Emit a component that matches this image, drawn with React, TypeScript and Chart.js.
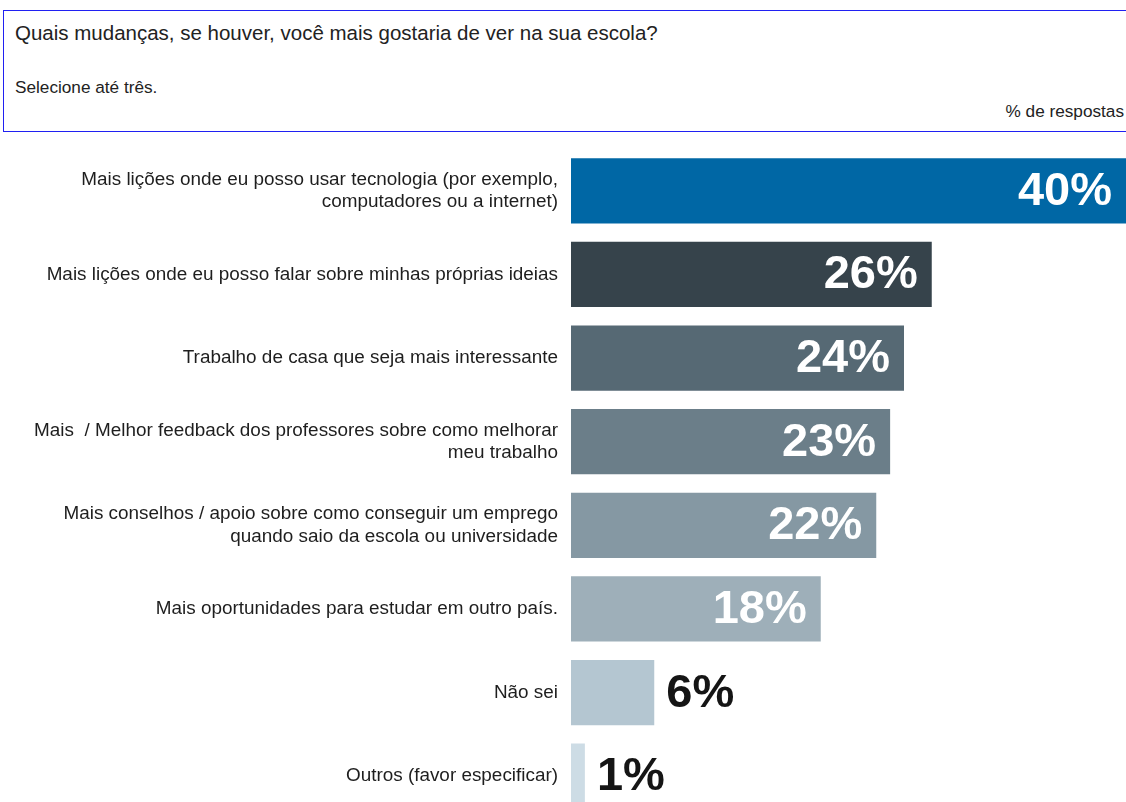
import React, { useEffect, useRef } from "react";
import { Chart, registerables } from "chart.js";

Chart.register(...registerables);

const categories: (string | string[])[] = [
  ["Mais lições onde eu posso usar tecnologia (por exemplo,", "computadores ou a internet)"],
  "Mais lições onde eu posso falar sobre minhas próprias ideias",
  "Trabalho de casa que seja mais interessante",
  ["Mais  / Melhor feedback dos professores sobre como melhorar", "meu trabalho"],
  ["Mais conselhos / apoio sobre como conseguir um emprego", "quando saio da escola ou universidade"],
  "Mais oportunidades para estudar em outro país.",
  "Não sei",
  "Outros (favor especificar)",
];
const values: number[] = [40, 26, 24, 23, 22, 18, 6, 1];
const barColors: string[] = [
  "#0067a5",
  "#36434b",
  "#566974",
  "#6b7e89",
  "#8598a3",
  "#9eafb9",
  "#b4c6d1",
  "#cddce5",
];
const titleText = "Quais mudanças, se houver, você mais gostaria de ver na sua escola?";
const subtitleText = "Selecione até três.";
const unitText = "% de respostas";

const valueLabelPlugin = {
  id: "valueLabels",
  afterDatasetsDraw(chart: any) {
    const ctx = chart.ctx;
    const meta = chart.getDatasetMeta(0);
    ctx.save();
    ctx.font = "bold 47px 'Liberation Sans', Arial, sans-serif";
    ctx.textBaseline = "middle";
    meta.data.forEach((bar: any, i: number) => {
      const v = values[i];
      const txt = v + "%";
      if (v >= 10) {
        ctx.fillStyle = "#ffffff";
        ctx.textAlign = "right";
        ctx.fillText(txt, bar.x - 14, bar.y + 1);
      } else {
        ctx.fillStyle = "#151515";
        ctx.textAlign = "left";
        ctx.fillText(txt, bar.x + 12, bar.y + 1);
      }
    });
    ctx.restore();
  },
};

export default function App() {
  const canvasRef = useRef<HTMLCanvasElement | null>(null);

  useEffect(() => {
    document.body.style.margin = "0";
    document.body.style.overflow = "hidden";
    document.documentElement.style.overflow = "hidden";
    const canvas = canvasRef.current;
    if (!canvas) return;
    const chart = new Chart(canvas, {
      type: "bar",
      data: {
        labels: categories,
        datasets: [
          {
            data: values,
            backgroundColor: barColors,
            borderWidth: 0,
            barPercentage: 0.78,
            categoryPercentage: 1,
          },
        ],
      },
      options: {
        indexAxis: "y",
        animation: false,
        responsive: false,
        maintainAspectRatio: false,
        layout: { padding: 0 },
        plugins: {
          legend: { display: false },
          tooltip: { enabled: false },
        },
        scales: {
          x: {
            min: 0,
            max: 40,
            display: false,
            grid: { display: false },
          },
          y: {
            grid: { display: false, drawTicks: false },
            border: { display: false },
            afterFit(scale: any) {
              scale.width = 571;
              scale.paddingTop = 0;
              scale.paddingBottom = 0;
            },
            ticks: {
              padding: 13,
              color: "#1e1e1e",
              font: { family: "'Liberation Sans', Arial, sans-serif", size: 18.9, lineHeight: 1.17 },
            },
          },
        },
      },
      plugins: [valueLabelPlugin],
    });
    return () => chart.destroy();
  }, []);

  return (
    <div
      style={{
        position: "relative",
        width: 1126,
        height: 802,
        overflow: "hidden",
        background: "#ffffff",
        fontFamily: "'Liberation Sans', Arial, sans-serif",
      }}
    >
      <div
        style={{
          position: "absolute",
          left: 3,
          top: 10,
          width: 1130,
          height: 122,
          border: "1px solid #2020f2",
          boxSizing: "border-box",
        }}
      >
        <div style={{ position: "absolute", left: 11, top: 10, fontSize: 20.5, color: "#222", whiteSpace: "nowrap" }}>{titleText}</div>
        <div style={{ position: "absolute", left: 11, top: 66, fontSize: 17.2, color: "#222", whiteSpace: "nowrap" }}>{subtitleText}</div>
        <div style={{ position: "absolute", right: 8, top: 90, fontSize: 17.2, color: "#222", whiteSpace: "nowrap" }}>{unitText}</div>
      </div>
      <canvas
        ref={canvasRef}
        width={1126}
        height={669}
        style={{ position: "absolute", left: 0, top: 149, width: 1126, height: 669 }}
      />
    </div>
  );
}
